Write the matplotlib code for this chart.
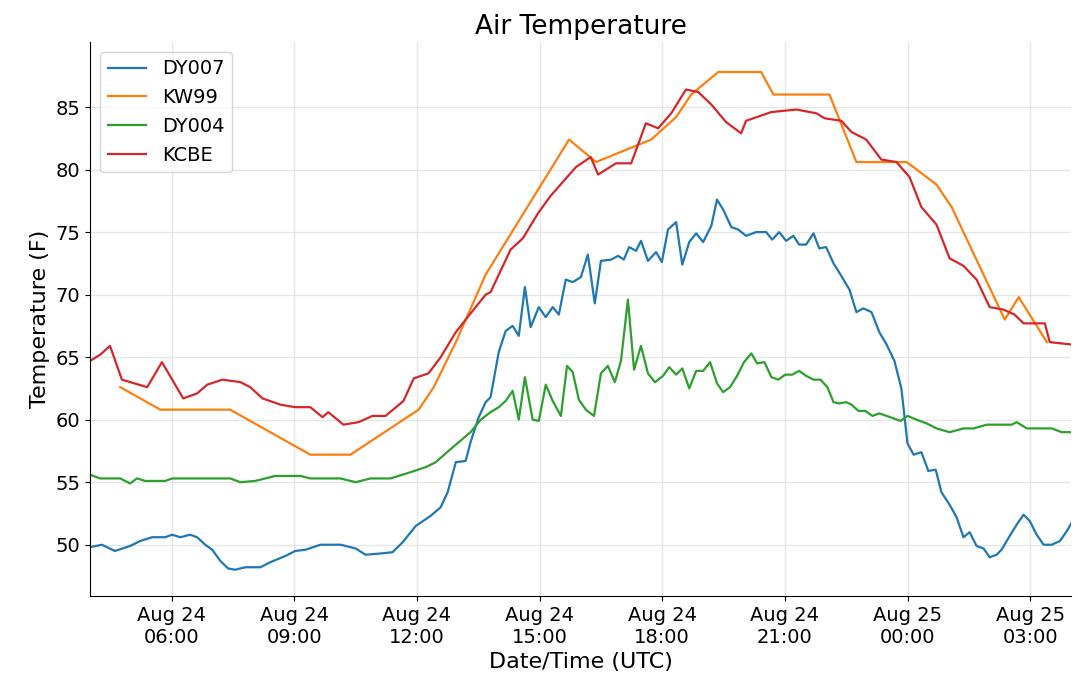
import matplotlib
matplotlib.use("Agg")
import matplotlib.pyplot as plt
import matplotlib.dates as mdates
from datetime import datetime, timedelta

# (hours since Aug 24 04:00 UTC, temperature F)
dy007 = [(0,49.8),(0.29,50.0),(0.61,49.5),(0.98,49.9),(1.23,50.3),(1.52,50.6),(1.84,50.6),(2.01,50.8),(2.21,50.6),(2.45,50.8),
 (2.62,50.6),(2.82,50.0),(2.99,49.6),(3.19,48.7),(3.38,48.1),(3.55,48.0),(3.80,48.2),(4.17,48.2),(4.41,48.6),(4.78,49.1),
 (5.02,49.5),(5.27,49.6),(5.64,50.0),(6.13,50.0),(6.50,49.7),(6.74,49.2),(7.11,49.3),(7.40,49.4),(7.65,50.2),(7.97,51.5),
 (8.33,52.3),(8.58,53.0),(8.75,54.2),(8.95,56.6),(9.19,56.7),(9.31,58.2),(9.51,60.2),(9.68,61.4),(9.80,61.8),(10.0,65.4),
 (10.17,67.1),(10.34,67.5),(10.49,66.7),(10.64,70.6),(10.78,67.4),(10.98,69.0),(11.15,68.2),(11.32,69.0),(11.47,68.4),(11.64,71.2),
 (11.81,71.0),(12.01,71.4),(12.18,73.2),(12.35,69.3),(12.5,72.7),(12.75,72.8),(12.92,73.1),(13.06,72.8),(13.19,73.8),(13.36,73.5),
 (13.48,74.3),(13.65,72.7),(13.85,73.4),(13.99,72.6),(14.14,75.2),(14.34,75.8),(14.49,72.4),(14.66,74.2),(14.83,74.9),(15.0,74.2),
 (15.2,75.5),(15.34,77.6),(15.49,76.8),(15.69,75.4),(15.86,75.2),(16.05,74.7),(16.3,75.0),(16.54,75.0),(16.69,74.4),(16.86,75.0),
 (17.03,74.3),(17.21,74.7),(17.35,74.0),(17.52,74.0),(17.7,74.9),(17.84,73.7),(18.01,73.8),(18.19,72.5),(18.38,71.5),(18.58,70.4),
 (18.75,68.6),(18.92,68.9),(19.12,68.6),(19.31,67.0),(19.49,66.0),(19.68,64.7),(19.85,62.5),(20.0,58.1),(20.15,57.2),(20.34,57.4),
 (20.51,55.9),(20.69,56.0),(20.83,54.2),(21.03,53.2),(21.2,52.2),(21.37,50.6),(21.52,51.0),(21.69,49.9),(21.86,49.7),(22.01,49.0),
 (22.18,49.2),(22.3,49.6),(22.5,50.7),(22.67,51.6),(22.84,52.4),(22.99,51.9),(23.16,50.8),(23.33,50.0),(23.53,50.0),(23.73,50.3),
 (23.9,51.1),(24.04,51.9)]

kw99 = [(0.74,62.6),(1.72,60.8),(3.43,60.8),(5.39,57.2),(6.37,57.2),(8.04,60.8),(8.41,62.6),(8.95,66.2),(9.68,71.6),(11.72,82.4),
 (12.38,80.6),(13.73,82.4),(14.34,84.2),(14.71,86.0),(15.37,87.8),(16.42,87.8),(16.72,86.0),(18.09,86.0),(18.75,80.6),(19.98,80.6),
 (20.71,78.8),(21.08,77.0),(22.38,68.0),(22.72,69.8),(23.41,66.2)]

dy004 = [(0,55.6),(0.25,55.3),(0.74,55.3),(0.98,54.9),(1.15,55.3),(1.35,55.1),(1.84,55.1),(2.01,55.3),(3.43,55.3),(3.68,55.0),
 (4.04,55.1),(4.29,55.3),(4.53,55.5),(5.15,55.5),(5.39,55.3),(6.13,55.3),(6.5,55.0),(6.86,55.3),(7.35,55.3),(7.84,55.8),
 (8.21,56.2),(8.46,56.6),(8.7,57.3),(8.95,58.0),(9.31,59.0),(9.56,60.0),(9.8,60.6),(10.0,61.0),(10.17,61.5),(10.34,62.3),
 (10.49,60.0),(10.64,63.4),(10.83,60.0),(10.98,59.9),(11.15,62.8),(11.32,61.5),(11.52,60.3),(11.67,64.3),(11.81,63.8),(11.96,61.6),
 (12.13,60.8),(12.33,60.3),(12.5,63.7),(12.67,64.3),(12.84,63.0),(12.99,64.7),(13.16,69.6),(13.31,64.0),(13.48,65.9),(13.65,63.7),
 (13.82,63.0),(14.02,63.5),(14.17,64.2),(14.34,63.6),(14.49,64.1),(14.66,62.5),(14.83,63.9),(15.0,63.9),(15.17,64.6),(15.34,62.9),
 (15.49,62.2),(15.66,62.6),(15.83,63.5),(16.0,64.6),(16.18,65.3),(16.32,64.5),(16.5,64.6),(16.67,63.4),(16.84,63.2),(17.01,63.6),
 (17.18,63.6),(17.35,63.9),(17.52,63.5),(17.7,63.2),(17.87,63.2),(18.04,62.6),(18.19,61.4),(18.33,61.3),(18.5,61.4),(18.63,61.2),
 (18.8,60.7),(18.97,60.7),(19.14,60.3),(19.31,60.5),(19.49,60.3),(19.83,59.9),(20.0,60.3),(20.22,60.0),(20.47,59.7),(20.71,59.3),
 (21.03,59.0),(21.37,59.3),(21.62,59.3),(21.94,59.6),(22.55,59.6),(22.67,59.8),(22.92,59.3),(23.53,59.3),(23.77,59.0),(24.04,59.0)]

kcbe = [(0,64.7),(0.25,65.2),(0.49,65.9),(0.78,63.2),(1.4,62.6),(1.76,64.6),(2.28,61.7),(2.62,62.1),(2.87,62.8),(3.24,63.2),
 (3.68,63.0),(3.92,62.6),(4.22,61.7),(4.66,61.2),(5.02,61.0),(5.39,61.0),(5.69,60.2),(5.83,60.6),(6.2,59.6),(6.57,59.8),
 (6.91,60.3),(7.23,60.3),(7.67,61.5),(7.92,63.3),(8.28,63.7),(8.58,65.0),(8.95,67.0),(9.19,68.0),(9.68,70.0),(9.8,70.2),
 (10.29,73.6),(10.59,74.5),(10.96,76.5),(11.27,77.9),(11.89,80.2),(12.25,81.0),(12.43,79.6),(12.87,80.5),(13.24,80.5),(13.6,83.7),
 (13.9,83.3),(14.22,84.5),(14.58,86.4),(14.88,86.2),(15.2,85.2),(15.56,83.8),(15.93,82.9),(16.05,83.9),(16.67,84.6),(17.28,84.8),
 (17.77,84.5),(17.97,84.1),(18.38,83.9),(18.63,83.0),(18.99,82.4),(19.36,80.8),(19.73,80.6),(20.05,79.4),(20.34,77.0),(20.71,75.6),
 (21.03,72.9),(21.37,72.3),(21.69,71.2),(22.01,69.0),(22.35,68.8),(22.62,68.4),(22.84,67.7),(23.36,67.7),(23.48,66.2),(24.04,66.0)]

series = [("DY007", dy007, "#1f77b4"), ("KW99", kw99, "#ff7f0e"),
          ("DY004", dy004, "#2ca02c"), ("KCBE", kcbe, "#d62728")]
base = datetime(2019, 8, 24, 4, 0)

fig = plt.figure(figsize=(10.78, 6.93), dpi=100)
ax = fig.add_axes([90/1078, 1-596/693, (1071-90)/1078, (596-42)/693])
for name, data, c in series:
    t = [base + timedelta(hours=h) for h, _ in data]
    v = [y for _, y in data]
    ax.plot(t, v, color=c, lw=1.6, label=name)

ax.set_xlim(base, base + timedelta(hours=24))
ax.set_ylim(45.9, 90.2)
ax.set_yticks([50, 55, 60, 65, 70, 75, 80, 85])
ax.xaxis.set_major_locator(mdates.HourLocator(byhour=[0, 3, 6, 9, 12, 15, 18, 21]))
ax.xaxis.set_major_formatter(mdates.DateFormatter('%b %d\n%H:%M'))
ax.tick_params(labelsize=14)
ax.grid(True, color="#e6e6e6", lw=1)
for s in ["top", "right"]:
    ax.spines[s].set_visible(False)
ax.set_title("Air Temperature", fontsize=19)
ax.set_xlabel("Date/Time (UTC)", fontsize=16)
ax.set_ylabel("Temperature (F)", fontsize=16)
ax.legend(loc="upper left", fontsize=14)
fig.savefig("out.png")
